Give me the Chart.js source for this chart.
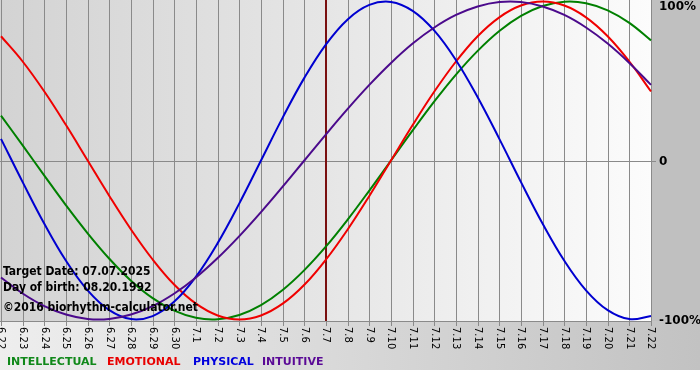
<!DOCTYPE html>
<html><head><meta charset="utf-8">
<script src="https://cdn.jsdelivr.net/npm/chart.js@4/dist/chart.umd.min.js"></script>
<style>
html,body{margin:0;padding:0;background:#fff;}
#wrap{position:relative;width:700px;height:380px;overflow:hidden;}
#c{position:absolute;left:0;top:0;}
.note{position:absolute;left:3px;font-weight:bold;font-size:12px;font-family:"DejaVu Sans Condensed","DejaVu Sans",sans-serif;color:#000;white-space:nowrap;line-height:14px;}
.lg{position:absolute;top:355px;font-weight:bold;font-size:11px;font-family:"DejaVu Sans",sans-serif;white-space:nowrap;line-height:14px;}
</style></head>
<body>
<div id="wrap">
<canvas id="c" width="700" height="380"></canvas>
<div class="note" style="top:264px">Target Date: 07.07.2025</div>
<div class="note" style="top:280px">Day of birth: 08.20.1992</div>
<div class="note" style="top:300px">©2016 biorhythm-calculator.net</div>
<div class="lg" style="left:7px;color:#10881a">INTELLECTUAL</div>
<div class="lg" style="left:107px;color:#e80000">EMOTIONAL</div>
<div class="lg" style="left:193px;color:#0000dd">PHYSICAL</div>
<div class="lg" style="left:262px;color:#5a0a96">INTUITIVE</div>
</div>
<script>
const days = ['6.22','6.23','6.24','6.25','6.26','6.27','6.28','6.29','6.30','7.1','7.2','7.3','7.4','7.5','7.6','7.7','7.8','7.9','7.10','7.11','7.12','7.13','7.14','7.15','7.16','7.17','7.18','7.19','7.20','7.21','7.22'];
const intellectual = [28.2,9.5,-9.5,-28.2,-45.8,-61.8,-75.6,-86.6,-94.5,-99.0,-99.9,-97.2,-91.0,-81.5,-69.0,-54.1,-37.2,-18.9,0,18.9,37.2,54.1,69.0,81.5,91.0,97.2,99.9,99.0,94.5,86.6,75.6];
const emotional = [78.2,62.3,43.4,22.3,0,-22.3,-43.4,-62.3,-78.2,-90.1,-97.5,-100,-97.5,-90.1,-78.2,-62.3,-43.4,-22.3,0,22.3,43.4,62.3,78.2,90.1,97.5,100,97.5,90.1,78.2,62.3,43.4];
const physical = [13.6,-13.6,-39.8,-63.1,-81.7,-94.2,-99.8,-97.9,-88.8,-73.1,-52.0,-27.0,0,27.0,52.0,73.1,88.8,97.9,99.8,94.2,81.7,63.1,39.8,13.6,-13.6,-39.8,-63.1,-81.7,-94.2,-99.8,-97.9];
const intuitive = [-73.6,-83.7,-91.6,-96.9,-99.7,-99.7,-96.9,-91.6,-83.7,-73.6,-61.4,-47.6,-32.5,-16.5,0,16.5,32.5,47.6,61.4,73.6,83.7,91.6,96.9,99.7,99.7,96.9,91.6,83.7,73.6,61.4,47.6];
const yTickValues = [100, 0, -100];
const yTickLabels = ['100%', '0', '-100%'];
const targetDay = '7.7';

const deco = {
  id: 'deco',
  beforeDraw(chart) {
    const ctx = chart.ctx, a = chart.chartArea;
    ctx.save();
    ctx.fillStyle = '#ffffff';
    ctx.fillRect(0, 0, 700, 380);
    ctx.fillStyle = '#c0c0c0';
    ctx.fillRect(a.right, 0, 700 - a.right, a.bottom);
    const g2 = ctx.createLinearGradient(0, 0, 700, 0);
    g2.addColorStop(0, '#eeeeee');
    g2.addColorStop(1, '#c2c2c2');
    ctx.fillStyle = g2;
    ctx.fillRect(0, a.bottom, 700, 370 - a.bottom);
    const g = ctx.createLinearGradient(a.left, 0, a.right, 0);
    g.addColorStop(0, '#d3d3d3');
    g.addColorStop(0.5, '#e6e6e6');
    g.addColorStop(1, '#fcfcfc');
    ctx.fillStyle = g;
    ctx.fillRect(0, a.top, a.right, a.bottom - a.top);
    ctx.restore();
  },
  beforeDatasetsDraw(chart) {
    const ctx = chart.ctx, a = chart.chartArea, xs = chart.scales.x, ys = chart.scales.y;
    ctx.save();
    ctx.strokeStyle = '#8a8a8a';
    ctx.lineWidth = 1;
    days.forEach((d, i) => {
      const x = Math.round(xs.getPixelForValue(i)) + 0.5;
      ctx.beginPath(); ctx.moveTo(x, a.top); ctx.lineTo(x, a.bottom + 5); ctx.stroke();
    });
    const y0 = Math.round(ys.getPixelForValue(0)) + 0.5;
    ctx.beginPath(); ctx.moveTo(0, y0); ctx.lineTo(a.right + 5, y0); ctx.stroke();
    ctx.beginPath(); ctx.moveTo(0, a.bottom + 0.5); ctx.lineTo(a.right, a.bottom + 0.5); ctx.stroke();
    const tx = Math.round(xs.getPixelForValue(days.indexOf(targetDay)));
    ctx.strokeStyle = '#7a1010';
    ctx.lineWidth = 2;
    ctx.beginPath(); ctx.moveTo(tx, a.top); ctx.lineTo(tx, a.bottom); ctx.stroke();
    ctx.restore();
  },
  afterDraw(chart) {
    const ctx = chart.ctx, a = chart.chartArea, xs = chart.scales.x, ys = chart.scales.y;
    ctx.save();
    ctx.fillStyle = '#000';
    ctx.font = '10px "DejaVu Sans"';
    ctx.textAlign = 'left';
    ctx.textBaseline = 'middle';
    days.forEach((d, i) => {
      const x = xs.getPixelForValue(i);
      ctx.save();
      ctx.translate(x, a.bottom + 6);
      ctx.rotate(Math.PI / 2);
      ctx.fillText(d, 0, 0);
      ctx.restore();
    });
    ctx.font = 'bold 12px "DejaVu Sans"';
    yTickValues.forEach((v, i) => {
      const y = Math.max(a.top + 7, ys.getPixelForValue(v) + 1);
      ctx.fillText(yTickLabels[i], a.right + 8, y);
    });
    ctx.restore();
  }
};

new Chart(document.getElementById('c'), {
  type: 'line',
  data: {
    labels: days,
    datasets: [
      { label: 'INTUITIVE', data: intuitive, borderColor: '#4b0a8c' },
      { label: 'PHYSICAL', data: physical, borderColor: '#0000d0' },
      { label: 'EMOTIONAL', data: emotional, borderColor: '#f00000' },
      { label: 'INTELLECTUAL', data: intellectual, borderColor: '#008000' }
    ]
  },
  options: {
    responsive: false,
    animation: false,
    layout: { padding: { left: 1, right: 49, top: 0, bottom: 59 } },
    scales: {
      x: { display: false, offset: false },
      y: { display: false, min: -101, max: 101 }
    },
    plugins: { legend: { display: false }, tooltip: { enabled: false } },
    elements: { point: { radius: 0 }, line: { tension: 0.4, borderWidth: 2, fill: false } }
  },
  plugins: [deco]
});
</script>
</body></html>
